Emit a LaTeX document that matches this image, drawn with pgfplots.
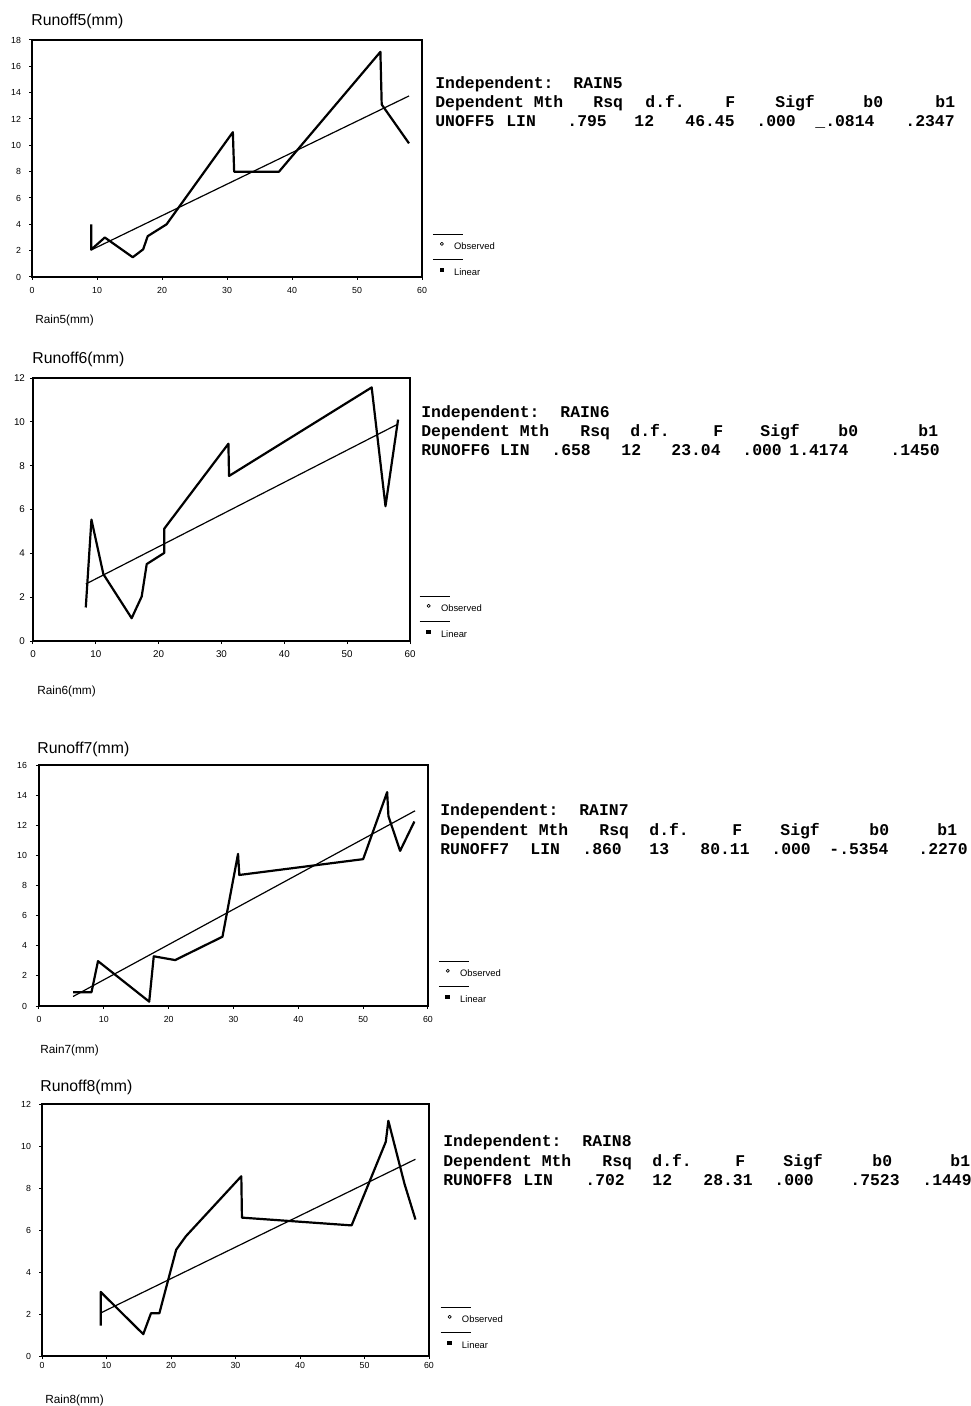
\documentclass[border=0pt]{standalone}
\usepackage{fontspec}
\setmainfont{Liberation Sans}
\newfontfamily\mono{Liberation Mono}
\usepackage{pgfplots}
\pgfplotsset{compat=1.18}

% one reference pixel = 0.5pt, y measured downwards from the top
\newcommand\tok[3]{\node[anchor=base west,inner sep=0pt,font={\mono\bfseries\fontsize{8.2}{9}\selectfont}] at ({#1*0.5pt},{-#2*0.5pt}) {#3};}
\newcommand\lbl[4]{\node[anchor=base west,inner sep=0pt,font={\fontsize{#3}{#3}\selectfont}] at ({#1*0.5pt},{-#2*0.5pt}) {#4};}

\pgfplotsset{
  panel/.style={
    scale only axis, anchor=south west,
    xmin=0, xmax=60, xtick={0,10,...,60},
    xtick pos=left, ytick pos=left,
    tick align=outside, major tick length=1.5pt,
    tick style={black, line width=0.5pt},
    axis line style={line width=0.8pt},
    ticklabel style={font=\fontsize{4.4}{5}\selectfont},
    /pgf/number format/assume math mode=true,
    legend style={draw=none, fill=none, inner sep=0pt, outer sep=0pt,
      font=\fontsize{4.7}{5}\selectfont, row sep=9pt,
      nodes={inner sep=0pt, text height=3.4pt, text depth=0pt},
      /tikz/every odd column/.style={column sep=5pt},
      anchor=north west},
    legend cell align=left,
  },
  obs/.style={black, line width=1.1pt, line join=round,
    legend image code/.code={
      \draw[line width=0.6pt, overlay] (-4.5pt,6pt) -- (10.5pt,6pt);
      \draw[line width=0.35pt] (0pt,1.2pt) circle (0.8pt);}},
  lin/.style={black, line width=0.6pt,
    legend image code/.code={
      \draw[line width=0.6pt, overlay] (-4.5pt,6.5pt) -- (10.5pt,6.5pt);
      \fill (-0.85pt,0.35pt) rectangle (0.85pt,2.05pt);}},
}

\begin{document}
\begin{tikzpicture}
\useasboundingbox (0,0) rectangle (485pt,-703pt);

% ---------- Runoff5 ----------
\begin{axis}[panel, at={(16pt,-138.5pt)}, width=195pt, height=118.5pt,
  ymin=0, ymax=18, ytick={0,2,...,18},
  yticklabel shift=0.5pt,
  legend style={at={(1.045,0.148)}}]
\addplot[obs] coordinates {(9.1,4.0) (9.1,2.08) (11.2,3.0) (15.5,1.5) (17.1,2.1) (17.8,3.1) (20.7,4.0) (30.9,11.0) (31.1,8.0) (38.0,8.0) (53.6,17.1) (53.8,13.1) (58.0,10.15)};
\addlegendentry{Observed}
\addplot[lin] coordinates {(9.1,2.05) (58.0,13.75)};
\addlegendentry{Linear}
\end{axis}
\lbl{31}{26}{7.9}{Runoff5(mm)}
\lbl{35}{324}{5.9}{Rain5(mm)}
\tok{435}{89}{Independent:}
\tok{573}{89}{RAIN5}
\tok{435}{108}{Dependent Mth}
\tok{593}{108}{Rsq}
\tok{645}{108}{d.f.}
\tok{725}{108}{F}
\tok{775}{108}{Sigf}
\tok{863}{108}{b0}
\tok{935}{108}{b1}
\tok{435}{127}{UNOFF5}
\tok{506}{127}{LIN}
\tok{567}{127}{.795}
\tok{634}{127}{12}
\tok{685}{127}{46.45}
\tok{756}{127}{.000}
\tok{815}{127}{\_.0814}
\tok{905}{127}{.2347}

% ---------- Runoff6 ----------
\begin{axis}[panel, at={(16.5pt,-320.5pt)}, width=188.5pt, height=131.5pt,
  ymin=0, ymax=12, ytick={0,2,...,12},
  ticklabel style={font=\fontsize{4.9}{5}\selectfont},
  yticklabel shift=-1pt,
  legend style={at={(1.0435,0.141)}}]
\addplot[obs] coordinates {(8.4,1.53) (9.3,5.54) (11.2,3.05) (15.7,1.04) (17.3,2.03) (18.1,3.51) (20.9,4.02) (20.9,5.13) (31.1,9.0) (31.2,7.53) (53.9,11.57) (56.1,6.15) (58.1,10.1)};
\addlegendentry{Observed}
\addplot[lin] coordinates {(8.4,2.6) (58.1,9.9)};
\addlegendentry{Linear}
\end{axis}
\lbl{32}{364}{7.9}{Runoff6(mm)}
\lbl{37}{694}{5.9}{Rain6(mm)}
\tok{421}{417}{Independent:}
\tok{560}{417}{RAIN6}
\tok{421}{437}{Dependent Mth}
\tok{580}{437}{Rsq}
\tok{630}{437}{d.f.}
\tok{713}{437}{F}
\tok{760}{437}{Sigf}
\tok{838}{437}{b0}
\tok{918}{437}{b1}
\tok{421}{456}{RUNOFF6 LIN}
\tok{551}{456}{.658}
\tok{621}{456}{12}
\tok{671}{456}{23.04}
\tok{742}{456}{.000}
\tok{789}{456}{1.4174}
\tok{890}{456}{.1450}

% ---------- Runoff7 ----------
\begin{axis}[panel, at={(19.5pt,-503pt)}, width=194.5pt, height=120.5pt,
  ymin=0, ymax=16, ytick={0,2,...,16},
  yticklabel shift=1pt,
  legend style={at={(1.045,0.154)}}]
\addplot[obs] coordinates {(5.25,0.92) (8.1,0.92) (9.1,2.98) (17.0,0.29) (17.7,3.3) (21.0,3.05) (28.3,4.6) (30.7,10.1) (30.9,8.7) (50.0,9.75) (53.7,14.2) (53.9,12.6) (55.7,10.3) (57.9,12.25)};
\addlegendentry{Observed}
\addplot[lin] coordinates {(5.25,0.63) (58.0,12.96)};
\addlegendentry{Linear}
\end{axis}
\lbl{37}{753}{7.9}{Runoff7(mm)}
\lbl{40}{1053}{5.9}{Rain7(mm)}
\tok{440}{815}{Independent:}
\tok{579}{815}{RAIN7}
\tok{440}{835}{Dependent Mth}
\tok{599}{835}{Rsq}
\tok{649}{835}{d.f.}
\tok{732}{835}{F}
\tok{780}{835}{Sigf}
\tok{869}{835}{b0}
\tok{937}{835}{b1}
\tok{440}{854}{RUNOFF7}
\tok{530}{854}{LIN}
\tok{582}{854}{.860}
\tok{649}{854}{13}
\tok{700}{854}{80.11}
\tok{771}{854}{.000}
\tok{829}{854}{-.5354}
\tok{918}{854}{.2270}

% ---------- Runoff8 ----------
\begin{axis}[panel, at={(21pt,-678pt)}, width=193.5pt, height=126pt,
  ymin=0, ymax=12, ytick={0,2,...,12},
  yticklabel shift=0.5pt,
  xticklabel style={yshift=2pt},
  legend style={at={(1.0475,0.163)}}]
\addplot[obs] coordinates {(9.1,1.45) (9.1,3.05) (15.7,1.04) (16.9,2.04) (18.2,2.04) (20.8,5.06) (22.3,5.7) (30.9,8.56) (31.0,6.59) (48.0,6.22) (53.3,10.2) (53.7,11.2) (56.2,8.2) (57.9,6.5)};
\addlegendentry{Observed}
\addplot[lin] coordinates {(9.1,2.05) (57.9,9.37)};
\addlegendentry{Linear}
\end{axis}
\lbl{40}{1091}{7.9}{Runoff8(mm)}
\lbl{45}{1403}{5.9}{Rain8(mm)}
\tok{443}{1146}{Independent:}
\tok{582}{1146}{RAIN8}
\tok{443}{1166}{Dependent Mth}
\tok{602}{1166}{Rsq}
\tok{652}{1166}{d.f.}
\tok{735}{1166}{F}
\tok{783}{1166}{Sigf}
\tok{872}{1166}{b0}
\tok{950}{1166}{b1}
\tok{443}{1185}{RUNOFF8}
\tok{523}{1185}{LIN}
\tok{585}{1185}{.702}
\tok{652}{1185}{12}
\tok{703}{1185}{28.31}
\tok{774}{1185}{.000}
\tok{850}{1185}{.7523}
\tok{922}{1185}{.1449}
\end{tikzpicture}
\end{document}
